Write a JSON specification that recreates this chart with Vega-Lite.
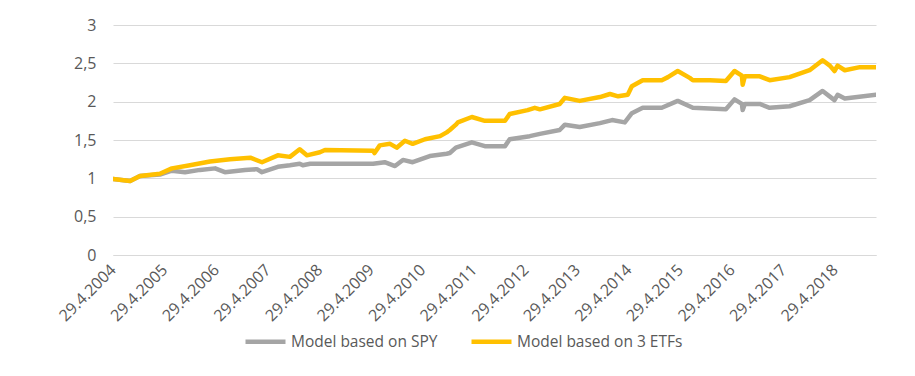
{
  "$schema": "https://vega.github.io/schema/vega-lite/v6.json",
  "width": 763,
  "height": 230,
  "autosize": {"type": "none"},
  "padding": {"left": 113, "top": 25, "right": 39, "bottom": 121},
  "background": "white",
  "config": {
    "view": {"stroke": null},
    "font": "Open Sans",
    "axis": {"labelFont": "Open Sans", "labelColor": "#595959", "labelFontSize": 16},
    "legend": {"labelFont": "Open Sans", "labelColor": "#595959", "labelFontSize": 15.5}
  },
  "data": {
    "values": [
      {"date": "2004-04-29T00:00:00", "series": "Model based on SPY", "value": 0.99},
      {"date": "2004-08-28T00:00:00", "series": "Model based on SPY", "value": 0.965},
      {"date": "2004-11-06T00:00:00", "series": "Model based on SPY", "value": 1.03},
      {"date": "2005-03-27T00:00:00", "series": "Model based on SPY", "value": 1.05},
      {"date": "2005-06-20T00:00:00", "series": "Model based on SPY", "value": 1.10},
      {"date": "2005-09-21T00:00:00", "series": "Model based on SPY", "value": 1.08},
      {"date": "2006-01-05T00:00:00", "series": "Model based on SPY", "value": 1.11},
      {"date": "2006-04-22T00:00:00", "series": "Model based on SPY", "value": 1.13},
      {"date": "2006-06-30T00:00:00", "series": "Model based on SPY", "value": 1.08},
      {"date": "2006-11-20T00:00:00", "series": "Model based on SPY", "value": 1.11},
      {"date": "2007-02-12T00:00:00", "series": "Model based on SPY", "value": 1.12},
      {"date": "2007-03-20T00:00:00", "series": "Model based on SPY", "value": 1.08},
      {"date": "2007-07-10T00:00:00", "series": "Model based on SPY", "value": 1.15},
      {"date": "2007-10-04T00:00:00", "series": "Model based on SPY", "value": 1.17},
      {"date": "2007-12-12T00:00:00", "series": "Model based on SPY", "value": 1.19},
      {"date": "2008-01-03T00:00:00", "series": "Model based on SPY", "value": 1.17},
      {"date": "2008-02-24T00:00:00", "series": "Model based on SPY", "value": 1.19},
      {"date": "2009-05-15T00:00:00", "series": "Model based on SPY", "value": 1.19},
      {"date": "2009-08-05T00:00:00", "series": "Model based on SPY", "value": 1.21},
      {"date": "2009-10-17T00:00:00", "series": "Model based on SPY", "value": 1.16},
      {"date": "2009-12-12T00:00:00", "series": "Model based on SPY", "value": 1.24},
      {"date": "2010-02-19T00:00:00", "series": "Model based on SPY", "value": 1.21},
      {"date": "2010-06-20T00:00:00", "series": "Model based on SPY", "value": 1.29},
      {"date": "2010-10-18T00:00:00", "series": "Model based on SPY", "value": 1.32},
      {"date": "2010-11-09T00:00:00", "series": "Model based on SPY", "value": 1.33},
      {"date": "2010-12-22T00:00:00", "series": "Model based on SPY", "value": 1.40},
      {"date": "2011-04-14T00:00:00", "series": "Model based on SPY", "value": 1.47},
      {"date": "2011-07-15T00:00:00", "series": "Model based on SPY", "value": 1.42},
      {"date": "2011-12-05T00:00:00", "series": "Model based on SPY", "value": 1.42},
      {"date": "2012-01-07T00:00:00", "series": "Model based on SPY", "value": 1.51},
      {"date": "2012-05-28T00:00:00", "series": "Model based on SPY", "value": 1.55},
      {"date": "2012-08-08T00:00:00", "series": "Model based on SPY", "value": 1.58},
      {"date": "2012-12-26T00:00:00", "series": "Model based on SPY", "value": 1.63},
      {"date": "2013-02-01T00:00:00", "series": "Model based on SPY", "value": 1.70},
      {"date": "2013-05-17T00:00:00", "series": "Model based on SPY", "value": 1.67},
      {"date": "2013-10-07T00:00:00", "series": "Model based on SPY", "value": 1.72},
      {"date": "2014-01-01T00:00:00", "series": "Model based on SPY", "value": 1.76},
      {"date": "2014-04-01T00:00:00", "series": "Model based on SPY", "value": 1.73},
      {"date": "2014-05-21T00:00:00", "series": "Model based on SPY", "value": 1.85},
      {"date": "2014-08-06T00:00:00", "series": "Model based on SPY", "value": 1.92},
      {"date": "2014-12-19T00:00:00", "series": "Model based on SPY", "value": 1.92},
      {"date": "2015-04-11T00:00:00", "series": "Model based on SPY", "value": 2.01},
      {"date": "2015-07-27T00:00:00", "series": "Model based on SPY", "value": 1.92},
      {"date": "2016-03-17T00:00:00", "series": "Model based on SPY", "value": 1.90},
      {"date": "2016-05-17T00:00:00", "series": "Model based on SPY", "value": 2.03},
      {"date": "2016-07-08T00:00:00", "series": "Model based on SPY", "value": 1.97},
      {"date": "2016-07-14T00:00:00", "series": "Model based on SPY", "value": 1.89},
      {"date": "2016-07-29T00:00:00", "series": "Model based on SPY", "value": 1.97},
      {"date": "2016-11-12T00:00:00", "series": "Model based on SPY", "value": 1.97},
      {"date": "2017-01-21T00:00:00", "series": "Model based on SPY", "value": 1.92},
      {"date": "2017-06-11T00:00:00", "series": "Model based on SPY", "value": 1.94},
      {"date": "2017-10-31T00:00:00", "series": "Model based on SPY", "value": 2.02},
      {"date": "2018-01-31T00:00:00", "series": "Model based on SPY", "value": 2.14},
      {"date": "2018-04-25T00:00:00", "series": "Model based on SPY", "value": 2.02},
      {"date": "2018-05-17T00:00:00", "series": "Model based on SPY", "value": 2.09},
      {"date": "2018-07-07T00:00:00", "series": "Model based on SPY", "value": 2.04},
      {"date": "2019-02-13T00:00:00", "series": "Model based on SPY", "value": 2.09},
      {"date": "2004-04-29T00:00:00", "series": "Model based on 3 ETFs", "value": 0.99},
      {"date": "2004-08-28T00:00:00", "series": "Model based on 3 ETFs", "value": 0.965},
      {"date": "2004-11-06T00:00:00", "series": "Model based on 3 ETFs", "value": 1.03},
      {"date": "2005-03-27T00:00:00", "series": "Model based on 3 ETFs", "value": 1.06},
      {"date": "2005-06-20T00:00:00", "series": "Model based on 3 ETFs", "value": 1.13},
      {"date": "2005-10-26T00:00:00", "series": "Model based on 3 ETFs", "value": 1.17},
      {"date": "2006-03-17T00:00:00", "series": "Model based on 3 ETFs", "value": 1.22},
      {"date": "2006-08-06T00:00:00", "series": "Model based on 3 ETFs", "value": 1.25},
      {"date": "2006-12-27T00:00:00", "series": "Model based on 3 ETFs", "value": 1.27},
      {"date": "2007-03-20T00:00:00", "series": "Model based on 3 ETFs", "value": 1.21},
      {"date": "2007-07-10T00:00:00", "series": "Model based on 3 ETFs", "value": 1.30},
      {"date": "2007-10-04T00:00:00", "series": "Model based on 3 ETFs", "value": 1.28},
      {"date": "2007-12-12T00:00:00", "series": "Model based on 3 ETFs", "value": 1.38},
      {"date": "2008-02-01T00:00:00", "series": "Model based on 3 ETFs", "value": 1.30},
      {"date": "2008-05-03T00:00:00", "series": "Model based on 3 ETFs", "value": 1.34},
      {"date": "2008-06-08T00:00:00", "series": "Model based on 3 ETFs", "value": 1.37},
      {"date": "2009-05-15T00:00:00", "series": "Model based on 3 ETFs", "value": 1.36},
      {"date": "2009-05-25T00:00:00", "series": "Model based on 3 ETFs", "value": 1.33},
      {"date": "2009-07-01T00:00:00", "series": "Model based on 3 ETFs", "value": 1.43},
      {"date": "2009-09-12T00:00:00", "series": "Model based on 3 ETFs", "value": 1.45},
      {"date": "2009-10-29T00:00:00", "series": "Model based on 3 ETFs", "value": 1.40},
      {"date": "2009-12-26T00:00:00", "series": "Model based on 3 ETFs", "value": 1.49},
      {"date": "2010-02-19T00:00:00", "series": "Model based on 3 ETFs", "value": 1.45},
      {"date": "2010-05-17T00:00:00", "series": "Model based on 3 ETFs", "value": 1.51},
      {"date": "2010-09-01T00:00:00", "series": "Model based on 3 ETFs", "value": 1.55},
      {"date": "2010-10-18T00:00:00", "series": "Model based on 3 ETFs", "value": 1.60},
      {"date": "2010-11-09T00:00:00", "series": "Model based on 3 ETFs", "value": 1.63},
      {"date": "2010-12-22T00:00:00", "series": "Model based on 3 ETFs", "value": 1.70},
      {"date": "2011-01-05T00:00:00", "series": "Model based on 3 ETFs", "value": 1.73},
      {"date": "2011-04-14T00:00:00", "series": "Model based on 3 ETFs", "value": 1.80},
      {"date": "2011-07-15T00:00:00", "series": "Model based on 3 ETFs", "value": 1.75},
      {"date": "2011-12-05T00:00:00", "series": "Model based on 3 ETFs", "value": 1.75},
      {"date": "2012-01-07T00:00:00", "series": "Model based on 3 ETFs", "value": 1.84},
      {"date": "2012-05-13T00:00:00", "series": "Model based on 3 ETFs", "value": 1.89},
      {"date": "2012-07-03T00:00:00", "series": "Model based on 3 ETFs", "value": 1.92},
      {"date": "2012-08-08T00:00:00", "series": "Model based on 3 ETFs", "value": 1.90},
      {"date": "2012-12-26T00:00:00", "series": "Model based on 3 ETFs", "value": 1.97},
      {"date": "2013-02-01T00:00:00", "series": "Model based on 3 ETFs", "value": 2.05},
      {"date": "2013-05-17T00:00:00", "series": "Model based on 3 ETFs", "value": 2.01},
      {"date": "2013-10-07T00:00:00", "series": "Model based on 3 ETFs", "value": 2.06},
      {"date": "2013-12-17T00:00:00", "series": "Model based on 3 ETFs", "value": 2.10},
      {"date": "2014-02-13T00:00:00", "series": "Model based on 3 ETFs", "value": 2.07},
      {"date": "2014-04-22T00:00:00", "series": "Model based on 3 ETFs", "value": 2.09},
      {"date": "2014-05-21T00:00:00", "series": "Model based on 3 ETFs", "value": 2.20},
      {"date": "2014-08-06T00:00:00", "series": "Model based on 3 ETFs", "value": 2.28},
      {"date": "2014-12-19T00:00:00", "series": "Model based on 3 ETFs", "value": 2.28},
      {"date": "2015-02-01T00:00:00", "series": "Model based on 3 ETFs", "value": 2.32},
      {"date": "2015-04-11T00:00:00", "series": "Model based on 3 ETFs", "value": 2.40},
      {"date": "2015-07-05T00:00:00", "series": "Model based on 3 ETFs", "value": 2.31},
      {"date": "2015-07-27T00:00:00", "series": "Model based on 3 ETFs", "value": 2.28},
      {"date": "2015-11-24T00:00:00", "series": "Model based on 3 ETFs", "value": 2.28},
      {"date": "2016-03-17T00:00:00", "series": "Model based on 3 ETFs", "value": 2.27},
      {"date": "2016-05-17T00:00:00", "series": "Model based on 3 ETFs", "value": 2.40},
      {"date": "2016-07-08T00:00:00", "series": "Model based on 3 ETFs", "value": 2.34},
      {"date": "2016-07-14T00:00:00", "series": "Model based on 3 ETFs", "value": 2.22},
      {"date": "2016-07-29T00:00:00", "series": "Model based on 3 ETFs", "value": 2.33},
      {"date": "2016-11-12T00:00:00", "series": "Model based on 3 ETFs", "value": 2.33},
      {"date": "2017-01-21T00:00:00", "series": "Model based on 3 ETFs", "value": 2.28},
      {"date": "2017-06-11T00:00:00", "series": "Model based on 3 ETFs", "value": 2.32},
      {"date": "2017-10-31T00:00:00", "series": "Model based on 3 ETFs", "value": 2.41},
      {"date": "2018-01-31T00:00:00", "series": "Model based on 3 ETFs", "value": 2.54},
      {"date": "2018-03-23T00:00:00", "series": "Model based on 3 ETFs", "value": 2.47},
      {"date": "2018-04-25T00:00:00", "series": "Model based on 3 ETFs", "value": 2.40},
      {"date": "2018-05-17T00:00:00", "series": "Model based on 3 ETFs", "value": 2.47},
      {"date": "2018-07-07T00:00:00", "series": "Model based on 3 ETFs", "value": 2.41},
      {"date": "2018-10-22T00:00:00", "series": "Model based on 3 ETFs", "value": 2.45},
      {"date": "2019-02-13T00:00:00", "series": "Model based on 3 ETFs", "value": 2.45}
    ]
  },
  "mark": {"type": "line", "strokeWidth": 4.5, "strokeJoin": "round", "strokeCap": "round", "clip": true},
  "encoding": {
    "x": {
      "field": "date",
      "type": "temporal",
      "scale": {"domain": [{"year": 2004, "month": 4, "date": 29}, {"year": 2019, "month": 2, "date": 13}]},
      "axis": {
        "title": null,
        "grid": false,
        "ticks": false,
        "domain": true,
        "domainColor": "#D9D9D9",
        "domainWidth": 1,
        "labelAngle": -45,
        "labelAlign": "right",
        "labelBaseline": "middle",
        "labelPadding": 12,
        "format": "%-d.%-m.%Y",
        "labelOverlap": false,
        "values": [
          {"year": 2004, "month": 4, "date": 29},
          {"year": 2005, "month": 4, "date": 29},
          {"year": 2006, "month": 4, "date": 29},
          {"year": 2007, "month": 4, "date": 29},
          {"year": 2008, "month": 4, "date": 29},
          {"year": 2009, "month": 4, "date": 29},
          {"year": 2010, "month": 4, "date": 29},
          {"year": 2011, "month": 4, "date": 29},
          {"year": 2012, "month": 4, "date": 29},
          {"year": 2013, "month": 4, "date": 29},
          {"year": 2014, "month": 4, "date": 29},
          {"year": 2015, "month": 4, "date": 29},
          {"year": 2016, "month": 4, "date": 29},
          {"year": 2017, "month": 4, "date": 29},
          {"year": 2018, "month": 4, "date": 29}
        ]
      }
    },
    "y": {
      "field": "value",
      "type": "quantitative",
      "scale": {"domain": [0, 3], "nice": false, "zero": true},
      "axis": {
        "title": null,
        "values": [0, 0.5, 1, 1.5, 2, 2.5, 3],
        "grid": true,
        "gridColor": "#D9D9D9",
        "gridWidth": 1,
        "domain": false,
        "ticks": false,
        "labelPadding": 17,
        "labelExpr": "replace(toString(datum.value), '.', ',')"
      }
    },
    "color": {
      "field": "series",
      "type": "nominal",
      "sort": ["Model based on SPY", "Model based on 3 ETFs"],
      "scale": {"domain": ["Model based on SPY", "Model based on 3 ETFs"], "range": ["#A5A5A5", "#FFC000"]},
      "legend": {
        "title": null,
        "orient": "none",
        "direction": "horizontal",
        "legendX": 130,
        "legendY": 294,
        "symbolType": "stroke",
        "symbolStrokeWidth": 4.5,
        "symbolSize": 1600,
        "labelOffset": 3,
        "labelLimit": 400,
        "columnPadding": 24
      }
    }
  }
}
